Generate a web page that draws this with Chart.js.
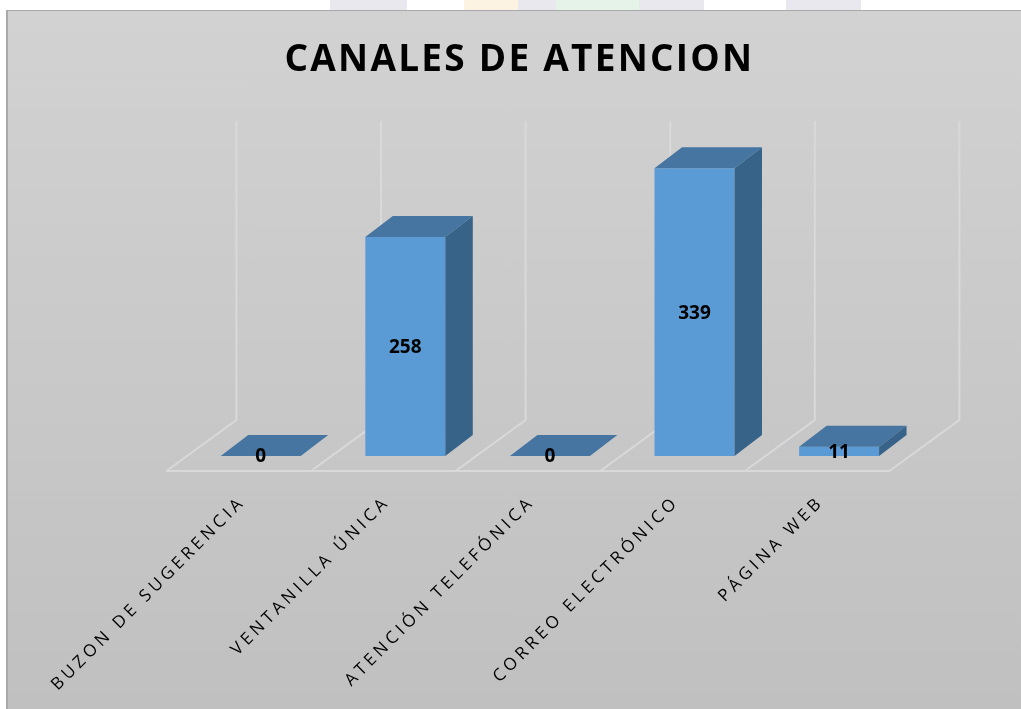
<!DOCTYPE html>
<html lang="es">
<head>
<meta charset="utf-8">
<title>Canales de atencion</title>
<style>
    html, body { margin: 0; padding: 0; width: 1021px; height: 709px; overflow: hidden; background: #fff; }
    .marco { position: absolute; left: 6px; top: 10px; width: 1015px; height: 699px; box-sizing: border-box;
             border-left: 2px solid #a9a9a9; border-top: 1px solid #a9a9a9;
             background: linear-gradient(#d2d2d2, #c0c0c0); }
    .tira { position: absolute; top: 0; height: 10px; }
    canvas { position: absolute; left: 0; top: 0; }
</style>
<script src="https://cdn.jsdelivr.net/npm/chart.js@4"></script>
</head>
<body>
<div class="tira" style="left:330px;width:77px;background:#eae8ef"></div>
<div class="tira" style="left:464px;width:54px;background:#fdf3e3"></div>
<div class="tira" style="left:518px;width:38px;background:#eae8ef"></div>
<div class="tira" style="left:556px;width:83px;background:#e6f3e8"></div>
<div class="tira" style="left:639px;width:65px;background:#eae8ef"></div>
<div class="tira" style="left:786px;width:75px;background:#eae8ef"></div>
<div class="marco"></div>
<canvas id="canalesChart" width="1021" height="709"></canvas>
<script>
// Datos del grafico
var categorias = ['BUZON DE SUGERENCIA', 'VENTANILLA ÚNICA', 'ATENCIÓN TELEFÓNICA', 'CORREO ELECTRÓNICO', 'PÁGINA WEB'];
var valores = [0, 258, 0, 339, 11];

// Colores de las caras de la barra
var colorFrente = '#5b9bd5';
var colorTecho = '#4575a0';
var colorLado = '#386388';
var colorRejilla = '#d9d9d9';

// Fondo 3D: suelo y lineas de pared, mas techo y lado de cada barra
var barras3d = {
    id: 'barras3d',
    beforeDraw: function (chart) {
        // espaciado de letras en titulo y etiquetas
        var ctx = chart.ctx;
        var titulo = chart.titleBlock;
        if (!titulo._envuelto) {
            var dibujaTitulo = titulo.draw;
            titulo.draw = function () {
                ctx.save();
                ctx.letterSpacing = '2.24px';
                ctx.translate(-30.5, 0);
                dibujaTitulo.call(titulo);
                ctx.restore();
            };
            titulo._envuelto = true;
            var ejeX = chart.scales.x;
            var dibujaEtiquetas = ejeX.drawLabels;
            ejeX.drawLabels = function (area) {
                ctx.save();
                ctx.letterSpacing = '3.9px';
                dibujaEtiquetas.call(ejeX, area);
                ctx.restore();
            };
        }
    },
    beforeDatasetsDraw: function (chart) {
        var ctx = chart.ctx;
        var area = chart.chartArea;
        var ejeX = chart.scales.x;
        var paso = ejeX.width / categorias.length;
        ctx.save();
        ctx.strokeStyle = colorRejilla;
        ctx.lineWidth = 2;
        ctx.beginPath();
        // frente del suelo
        ctx.moveTo(area.left - 22, area.bottom + 15);
        ctx.lineTo(area.right - 22, area.bottom + 15);
        for (var i = 0; i <= categorias.length; i++) {
            var x = area.left + paso * i;
            // diagonal del suelo y vertical de la pared
            ctx.moveTo(x - 22, area.bottom + 15);
            ctx.lineTo(x + 48, area.bottom - 36);
            ctx.lineTo(x + 48, area.top - 38);
        }
        ctx.stroke();
        ctx.restore();
    },
    afterDatasetsDraw: function (chart) {
        var ctx = chart.ctx;
        var fondoX = 27.5, fondoY = -21;
        ctx.save();
        chart.getDatasetMeta(0).data.forEach(function (barra, i) {
            var izq = barra.x - barra.width / 2;
            var der = barra.x + barra.width / 2;
            // techo
            ctx.fillStyle = colorTecho;
            ctx.beginPath();
            ctx.moveTo(izq, barra.y);
            ctx.lineTo(izq + fondoX, barra.y + fondoY);
            ctx.lineTo(der + fondoX, barra.y + fondoY);
            ctx.lineTo(der, barra.y);
            ctx.closePath();
            ctx.fill();
            // lado
            ctx.fillStyle = colorLado;
            ctx.beginPath();
            ctx.moveTo(der, barra.y);
            ctx.lineTo(der + fondoX, barra.y + fondoY);
            ctx.lineTo(der + fondoX, barra.base + fondoY);
            ctx.lineTo(der, barra.base);
            ctx.closePath();
            ctx.fill();
            // valor
            ctx.fillStyle = '#000';
            ctx.font = 'bold 19px "Open Sans"';
            ctx.textAlign = 'center';
            ctx.textBaseline = 'middle';
            ctx.fillText(String(valores[i]), barra.x, (barra.y + barra.base) / 2 + 1);
        });
        ctx.restore();
    }
};

var ctxCanales = document.getElementById('canalesChart').getContext('2d');
var canalesChart = new Chart(ctxCanales, {
    type: 'bar',
    data: {
        labels: categorias,
        datasets: [{
            label: 'Canales',
            data: valores,
            backgroundColor: colorFrente,
            borderWidth: 0,
            barPercentage: 1,
            categoryPercentage: 0.553
        }]
    },
    plugins: [barras3d],
    options: {
        responsive: false,
        animation: false,
        layout: { padding: { left: 188.4, right: 109.6, top: 0, bottom: 0 } },
        plugins: {
            legend: { display: false },
            tooltip: { enabled: false },
            title: {
                display: true,
                text: 'CANALES DE ATENCION',
                color: '#000',
                font: { family: '"Open Sans"', size: 37, weight: 'bold', lineHeight: 1.2 },
                padding: { top: 38, bottom: 76.6 }
            }
        },
        scales: {
            y: { display: false, min: 0, max: 350 },
            x: {
                afterFit: function (eje) { eje.height = 253; },
                grid: { display: false },
                border: { display: false },
                ticks: {
                    color: '#000',
                    autoSkip: false,
                    minRotation: 45,
                    maxRotation: 45,
                    padding: 28,
                    labelOffset: -18,
                    font: { family: '"Open Sans"', size: 17 }
                }
            }
        }
    }
});
</script>
</body>
</html>
